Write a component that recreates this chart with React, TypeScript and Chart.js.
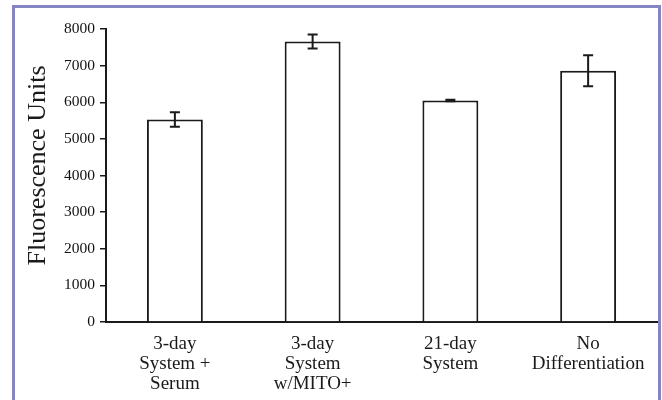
import React, { useEffect, useRef } from "react";
import { Chart, registerables } from "chart.js";

Chart.register(...registerables);

const categories: string[][] = [
  ["3-day", "System +", "Serum"],
  ["3-day", "System", "w/MITO+"],
  ["21-day", "System"],
  ["No", "Differentiation"],
];
const fluorescence: number[] = [5530, 7660, 6050, 6860];
const errors: number[] = [200, 190, 20, 420];
const yTicks: number[] = [0, 1000, 2000, 3000, 4000, 5000, 6000, 7000, 8000];
const yTitle = "Fluorescence Units";

const SERIF = "'Liberation Serif', 'Times New Roman', serif";

const errorBarPlugin = {
  id: "errorBars",
  afterDatasetsDraw(chart: any) {
    const meta = chart.getDatasetMeta(0);
    const yScale = chart.scales.y;
    const ctx = chart.ctx;
    ctx.save();
    ctx.strokeStyle = "#1a1a1a";
    ctx.lineWidth = 2;
    meta.data.forEach((bar: any, i: number) => {
      const x = bar.x;
      const yHi = yScale.getPixelForValue(fluorescence[i] + errors[i]);
      const yLo = yScale.getPixelForValue(fluorescence[i] - errors[i]);
      const cap = 5;
      ctx.beginPath();
      ctx.moveTo(x, yHi);
      ctx.lineTo(x, yLo);
      ctx.moveTo(x - cap, yHi);
      ctx.lineTo(x + cap, yHi);
      ctx.moveTo(x - cap, yLo);
      ctx.lineTo(x + cap, yLo);
      ctx.stroke();
    });
    ctx.restore();
  },
};

const yTitlePlugin = {
  id: "yTitle",
  afterDraw(chart: any) {
    const ctx = chart.ctx;
    const area = chart.chartArea;
    ctx.save();
    ctx.fillStyle = "#1a1a1a";
    ctx.font = `26px ${SERIF}`;
    ctx.textAlign = "center";
    ctx.textBaseline = "middle";
    ctx.translate(38, (area.top + area.bottom) / 2 - 10);
    ctx.rotate(-Math.PI / 2);
    ctx.fillText(yTitle, 0, 0);
    ctx.restore();
  },
};

export default function App() {
  const ref = useRef<HTMLCanvasElement | null>(null);

  useEffect(() => {
    if (!ref.current) return;
    const chart = new Chart(ref.current, {
      type: "bar",
      data: {
        labels: categories,
        datasets: [
          {
            data: fluorescence,
            backgroundColor: "#ffffff",
            borderColor: "#1a1a1a",
            borderWidth: 2,
            barPercentage: 0.406,
            categoryPercentage: 1,
          },
        ],
      },
      options: {
        animation: false,
        responsive: false,
        maintainAspectRatio: false,
        layout: { padding: { left: 22, top: 29, right: 5, bottom: 0 } },
        plugins: {
          legend: { display: false },
          tooltip: { enabled: false },
        },
        scales: {
          x: {
            grid: { display: false },
            border: { display: true, color: "#1a1a1a", width: 2 },
            ticks: {
              color: "#1a1a1a",
              padding: 4,
              maxRotation: 0,
              autoSkip: false,
              font: { family: SERIF, size: 19, lineHeight: 20 / 19 },
            },
            afterFit(scale: any) {
              scale.height = 78;
            },
          },
          y: {
            min: 0,
            max: 8000,
            afterBuildTicks(scale: any) {
              scale.ticks = yTicks.map((v) => ({ value: v }));
            },
            grid: {
              display: true,
              drawOnChartArea: false,
              drawTicks: true,
              tickLength: 6,
              color: "#1a1a1a",
              lineWidth: 1.5,
            },
            border: { display: true, color: "#1a1a1a", width: 2 },
            ticks: {
              color: "#111111",
              padding: 5,
              font: { family: SERIF, size: 15.5 },
              callback: (v: any) => String(v),
            },
            afterFit(scale: any) {
              scale.width = 84;
            },
          },
        },
      },
      plugins: [errorBarPlugin, yTitlePlugin],
    });
    return () => chart.destroy();
  }, []);

  return (
    <div
      style={{
        position: "fixed",
        left: 0,
        top: 0,
        width: 662,
        height: 400,
        background: "#ffffff",
        overflow: "hidden",
      }}
    >
      <div
        style={{
          position: "absolute",
          left: 12,
          top: 5,
          width: 643,
          height: 420,
          border: "3px solid #8585c4",
          boxSizing: "content-box",
        }}
      />
      <canvas
        ref={ref}
        width={662}
        height={400}
        style={{ position: "absolute", left: 0, top: 0, width: 662, height: 400 }}
      />
    </div>
  );
}
